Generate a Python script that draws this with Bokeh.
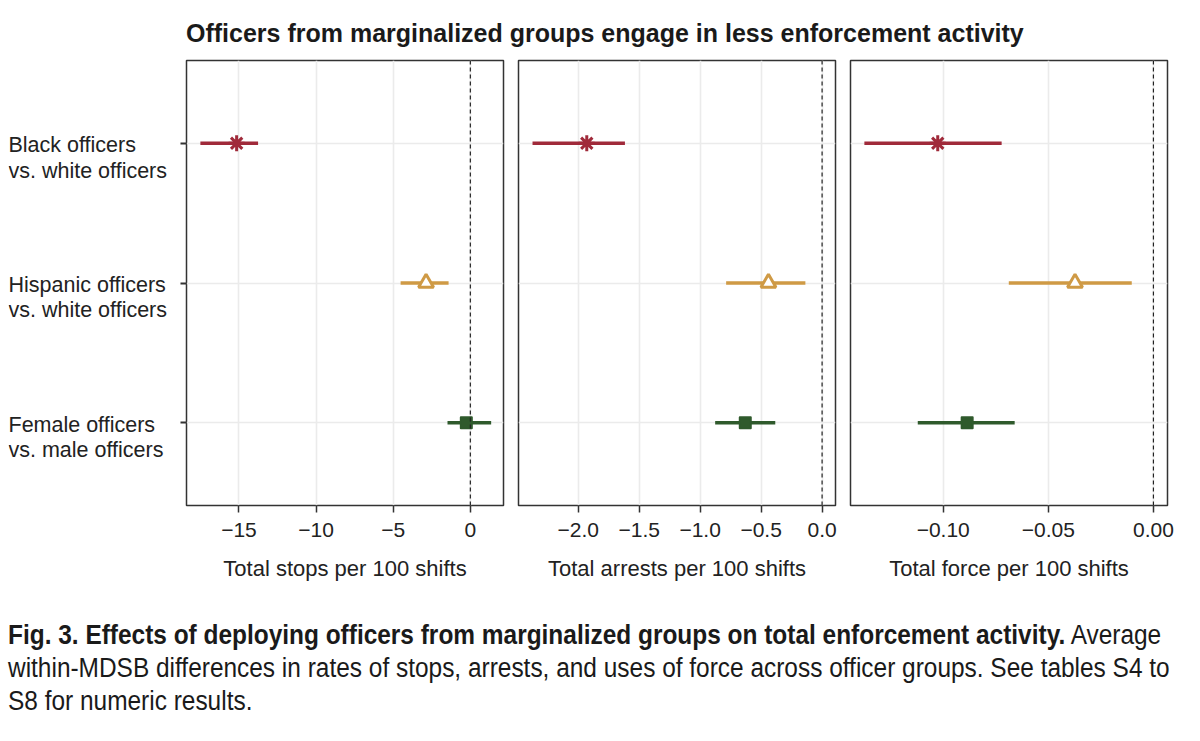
from bokeh.plotting import figure
from bokeh.layouts import column, row
from bokeh.models import Div, Range1d, FixedTicker, CustomJSTickFormatter, Span
from bokeh.embed import file_html
from bokeh.resources import INLINE
from bokeh.core.properties import value

# ---------------- data ----------------
title_text = "Officers from marginalized groups engage in less enforcement activity"
groups = ["Black officers\nvs. white officers",
          "Hispanic officers\nvs. white officers",
          "Female officers\nvs. male officers"]
colors = ["#A02A3A", "#CF9A45", "#2F5A2C"]
markers = ["asterisk", "triangle", "square"]

stops_est = [-15.15, -2.87, -0.26]
stops_lo = [-17.5, -4.52, -1.48]
stops_hi = [-13.76, -1.41, 1.35]

arrests_est = [-1.93, -0.44, -0.63]
arrests_lo = [-2.375, -0.787, -0.877]
arrests_hi = [-1.617, -0.137, -0.384]

force_est = [-0.1026, -0.0373, -0.0886]
force_lo = [-0.1375, -0.0688, -0.1121]
force_hi = [-0.0722, -0.0103, -0.0660]

stops_ticks = [-15, -10, -5, 0]
arrests_ticks = [-2.0, -1.5, -1.0, -0.5, 0.0]
force_ticks = [-0.10, -0.05, 0.00]

x_labels = ["Total stops per 100 shifts",
            "Total arrests per 100 shifts",
            "Total force per 100 shifts"]

caption_bold = "Fig. 3. Effects of deploying officers from marginalized groups on total enforcement activity."
caption_lines = [" Average",
                 "within-MDSB differences in rates of stops, arrests, and uses of force across officer groups. See tables S4 to",
                 "S8 for numeric results."]

# ---------------- layout ----------------
FONT = "Liberation Sans"
TXT = "#222222"
ypos = list(range(len(groups)))
pad = 0.592
y_range = Range1d(len(groups) - 1 + pad, -pad)

FRAME_H = 445
TOP = 12
BOTTOM = 114


def panel(est, lo, hi, ticks, prec, xr, xlabel, first, mbl, mbr):
    p = figure(frame_width=317, frame_height=FRAME_H,
               x_range=Range1d(*xr), y_range=y_range,
               output_backend="svg", toolbar_location=None,
               min_border_top=TOP, min_border_bottom=BOTTOM,
               min_border_left=mbl, min_border_right=mbr,
               x_axis_label=xlabel)
    p.background_fill_color = "white"
    p.border_fill_color = "white"
    p.outline_line_color = "#333333"
    p.outline_line_width = 1.5

    t = FixedTicker(ticks=ticks)
    p.xaxis.ticker = t
    p.xgrid.ticker = t
    p.ygrid.ticker = FixedTicker(ticks=ypos)
    p.grid.grid_line_color = "#EBEBEB"
    p.grid.grid_line_width = 1.6

    xa = p.xaxis[0]
    xa.formatter = CustomJSTickFormatter(args=dict(prec=prec),
                                         code="return tick.toFixed(prec).replace('-', '\\u2212');")
    xa.axis_line_color = None
    xa.major_tick_out = 7
    xa.major_tick_in = 0
    xa.major_tick_line_color = "#333333"
    xa.major_tick_line_width = 1.5
    xa.minor_tick_line_color = None
    xa.major_label_text_font = FONT
    xa.major_label_text_font_size = "21px"
    xa.major_label_text_color = TXT
    xa.major_label_standoff = 10
    xa.axis_label_text_font = FONT
    xa.axis_label_text_font_size = "22px"
    xa.axis_label_text_font_style = "normal"
    xa.axis_label_text_color = TXT
    xa.axis_label_standoff = 16

    ya = p.yaxis[0]
    if first:
        ya.ticker = FixedTicker(ticks=ypos)
        ya.formatter = CustomJSTickFormatter(code="return '';")
        ya.axis_line_color = None
        ya.major_tick_out = 6
        ya.major_tick_in = 0
        ya.major_tick_line_color = "#333333"
        ya.major_tick_line_width = 2
        ya.minor_tick_line_color = None
        ya.major_label_text_color = None
        ya.major_label_text_font_size = "1px"
        ya.major_label_standoff = 0
    else:
        ya.visible = False

    p.add_layout(Span(location=0, dimension="height", line_dash="4 3",
                      line_color="#222222", line_width=1.2))

    p.segment(x0=lo, y0=ypos, x1=hi, y1=ypos, line_color=colors, line_width=3.5)

    for i in range(len(groups)):
        if markers[i] == "asterisk":
            p.scatter(x=[est[i]], y=[ypos[i]], marker="asterisk", size=16,
                      line_color=colors[i], line_width=3)
        elif markers[i] == "triangle":
            p.scatter(x=[est[i]], y=[ypos[i]], marker="triangle", size=15,
                      line_color=colors[i], fill_color="white", line_width=3)
        else:
            p.scatter(x=[est[i]], y=[ypos[i]], marker="square", size=11,
                      line_color=colors[i], fill_color=colors[i], line_width=2,
                      line_join="round")
    return p


lab = figure(frame_width=172, frame_height=FRAME_H,
             x_range=Range1d(0, 1), y_range=y_range,
             output_backend="svg", toolbar_location=None,
             min_border_top=TOP, min_border_bottom=BOTTOM,
             min_border_left=0, min_border_right=0)
lab.axis.visible = False
lab.grid.visible = False
lab.outline_line_color = None
lab.background_fill_color = "white"
lab.border_fill_color = "white"
lab.text(x=[0] * len(groups), y=ypos, text=groups,
         text_font=value(FONT), text_font_size="21.5px", text_color=TXT,
         text_align="left", text_baseline="top", y_offset=-10,
         text_line_height=1.06)

p1 = panel(stops_est, stops_lo, stops_hi, stops_ticks, 0, (-18.4, 2.15),
           x_labels[0], True, 0, 7)
p2 = panel(arrests_est, arrests_lo, arrests_hi, arrests_ticks, 1, (-2.49, 0.11),
           x_labels[1], False, 8, 7)
p3 = panel(force_est, force_lo, force_hi, force_ticks, 2, (-0.1441, 0.0067),
           x_labels[2], False, 8, 25)

title_div = Div(
    text=('<div style="font-family:\'Liberation Sans\',Arial,sans-serif;font-weight:bold;'
          'font-size:25px;line-height:28px;color:#1a1a1a;white-space:nowrap;'
          'padding:11px 0 0 178px;margin:0;">' + title_text + '</div>'),
    width=1184, height=40, margin=(0, 0, 0, 0))

cap_html = ('<div style="font-family:\'Liberation Sans\',Arial,sans-serif;'
            'font-size:27px;line-height:33px;color:#1a1a1a;white-space:nowrap;margin:0;padding:0;'
            'transform:scaleX(0.905);transform-origin:0 0;">'
            '<b>' + caption_bold + '</b>' + caption_lines[0] + '<br>'
            + caption_lines[1] + '<br>' + caption_lines[2] + '</div>')
caption_div = Div(text=cap_html, width=1184, height=105, margin=(0, 0, 0, 0))

layout = column(title_div, row(lab, p1, p2, p3), caption_div, margin=(8, 0, 0, 8))

open("out.html", "w").write(file_html(layout, INLINE))
